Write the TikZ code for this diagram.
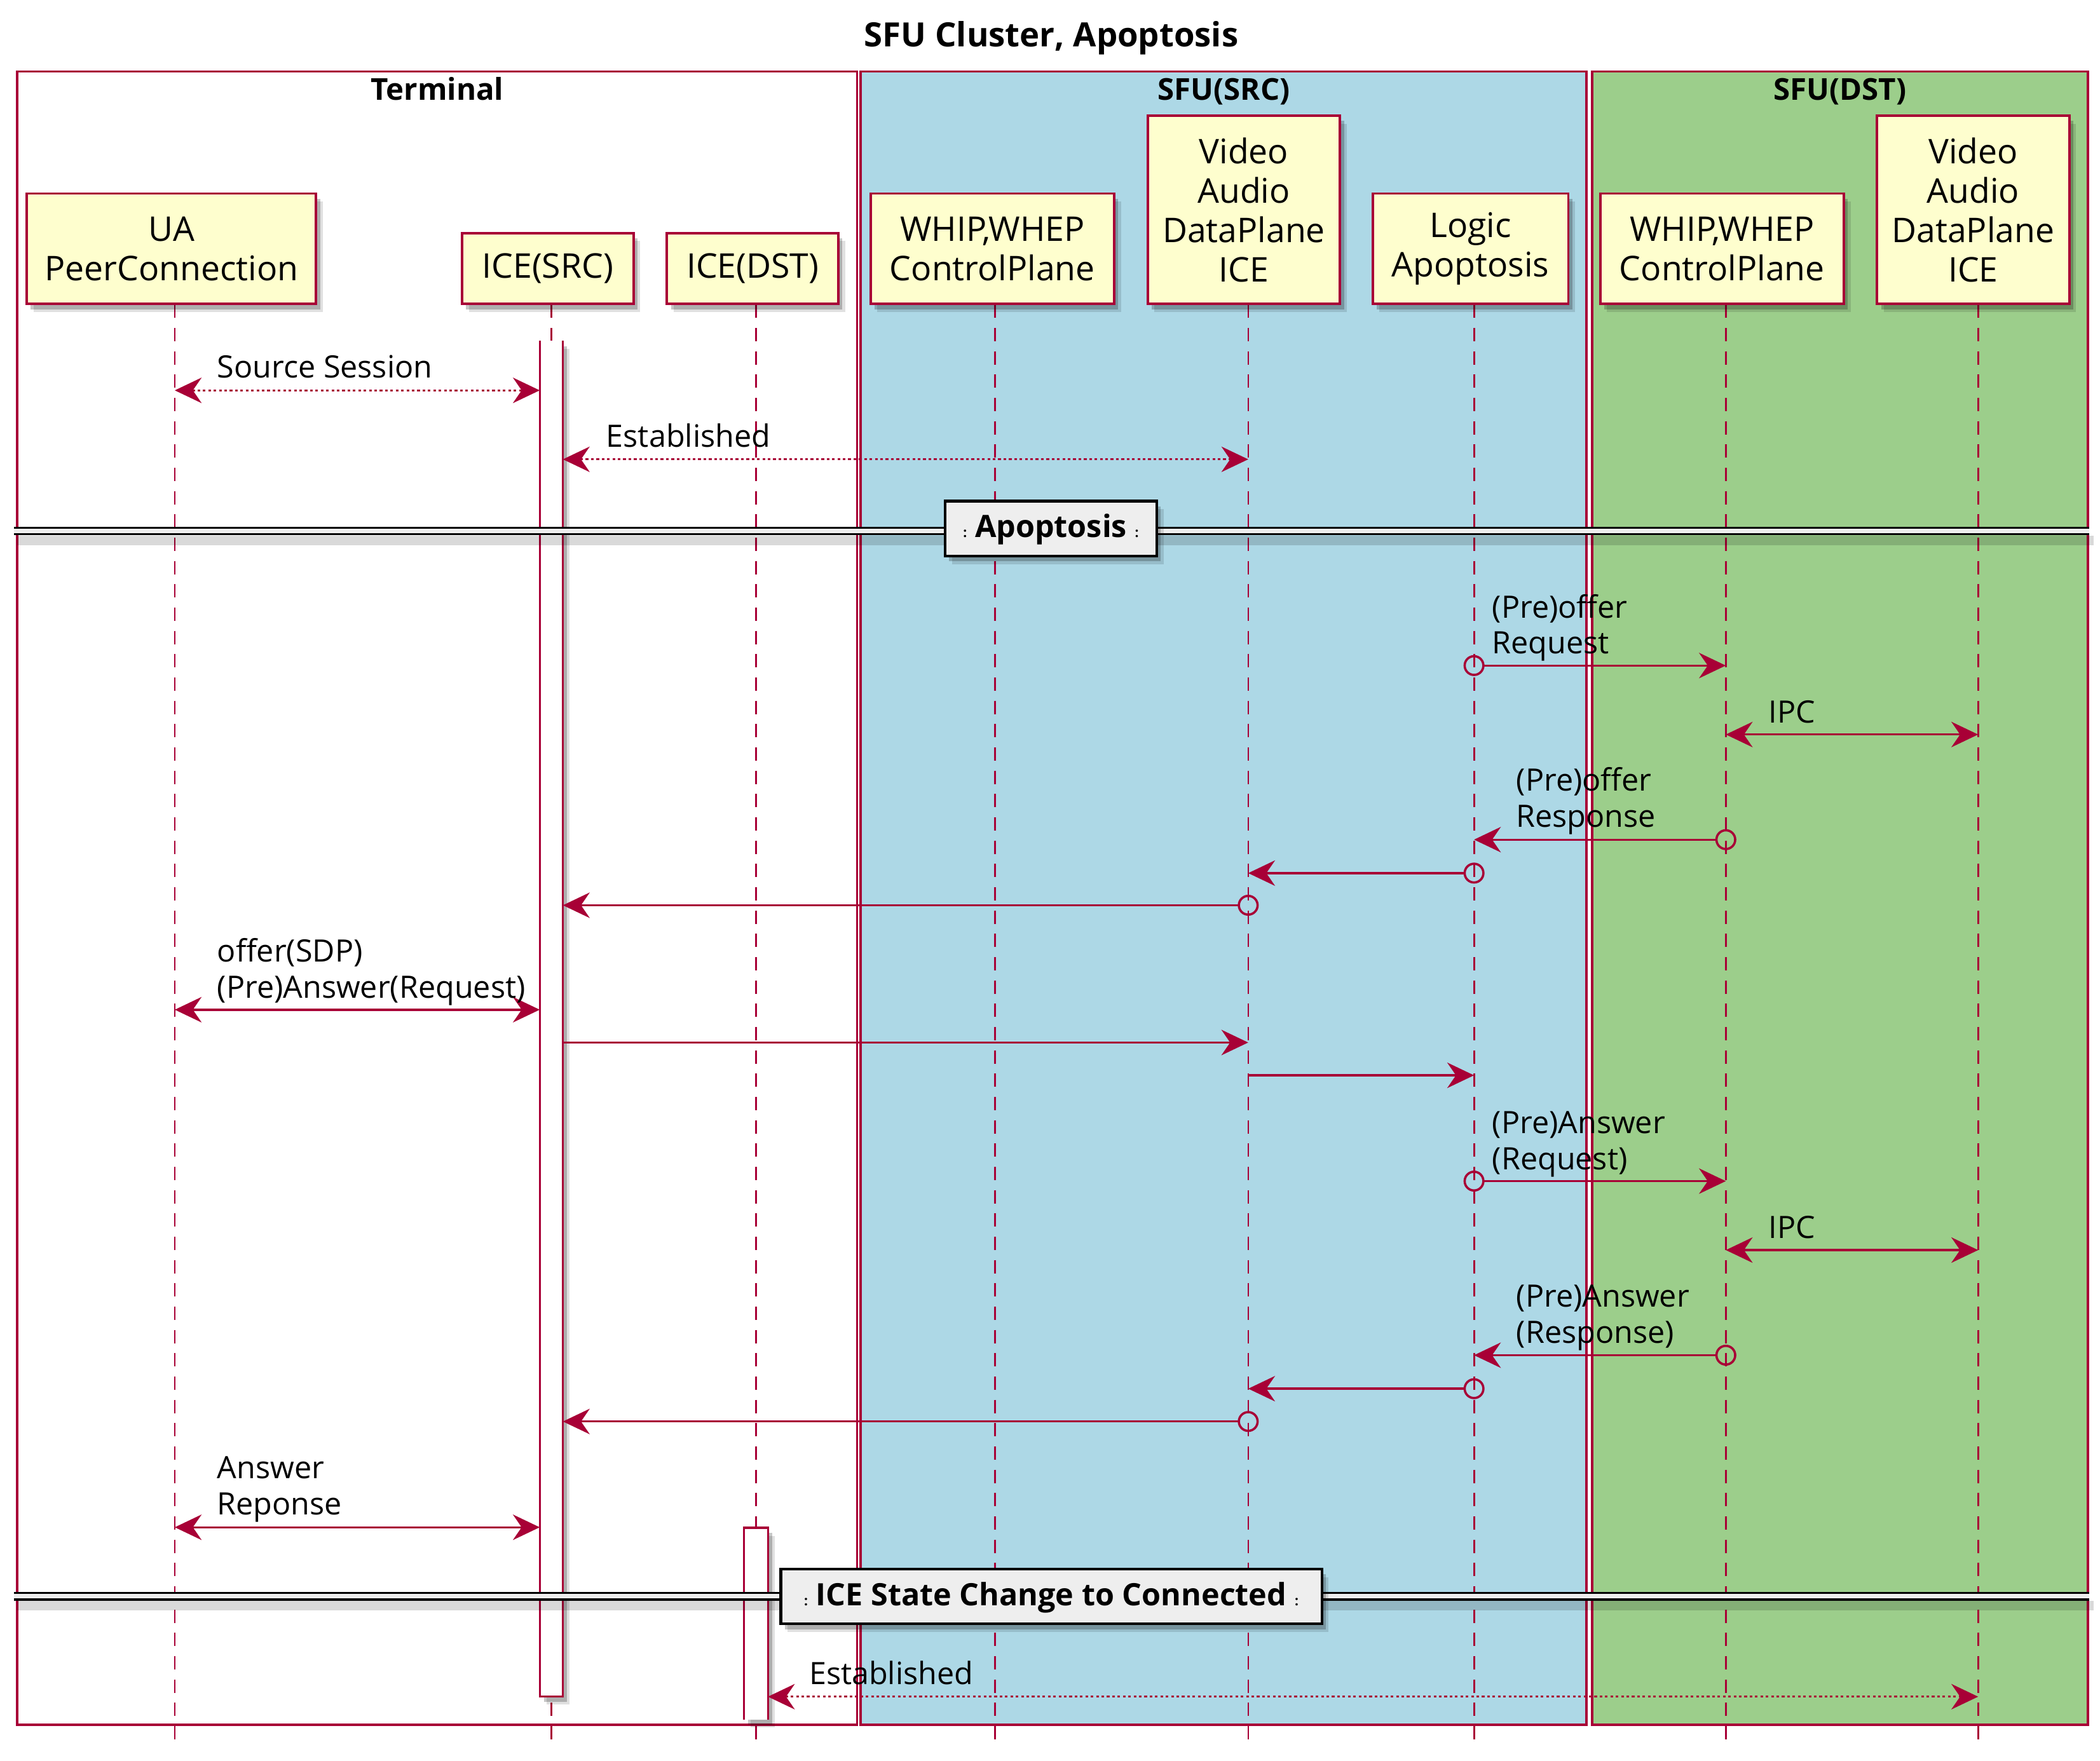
\documentclass[tikz,border=0pt]{standalone}
\usepackage{fontspec}
\setmainfont{Open Sans}
\usetikzlibrary{arrows.meta,shadows}
\definecolor{crim}{HTML}{A80036}
\definecolor{partfill}{HTML}{FEFECE}
\definecolor{srcblue}{HTML}{ADD8E6}
\definecolor{dstgreen}{HTML}{9CCE8B}
\definecolor{divfill}{HTML}{EEEEEE}
\newcommand{\dcolon}{{\fontsize{10}{10}\selectfont :}}
\tikzset{
  pu/.tip={Stealth[length=20pt,width=19pt,inset=6.5pt]},
  shad/.style={drop shadow={shadow xshift=3pt,shadow yshift=-4pt,opacity=.22,fill=black},
               drop shadow={shadow xshift=5pt,shadow yshift=-6pt,opacity=.12,fill=black}},
  grp/.style={draw=crim,line width=1.8pt},
  gtitle/.style={font=\fontsize{22.5}{27}\selectfont\bfseries,anchor=base,inner sep=0pt},
  ttl/.style={font=\fontsize{25}{30}\selectfont\bfseries,anchor=base,inner sep=0pt},
  part/.style={draw=crim,line width=1.8pt,fill=partfill,align=center,inner sep=0pt,outer sep=0pt,
               font=\fontsize{25.4}{29.5}\selectfont,shad},
  act/.style={fill=white,inner sep=0pt,outer sep=0pt,shad},
  actedge/.style={draw=crim,line width=1.6pt},
  life/.style={draw=crim,line width=1.3pt,dash pattern=on 10pt off 7.4pt},
  msg/.style={draw=crim,line width=1.6pt},
  dotmsg/.style={draw=crim,line width=1.4pt,dash pattern=on 2pt off 2pt},
  lbl/.style={font=\fontsize{23}{27}\selectfont,inner sep=0pt,align=left,text depth=0pt,anchor=south west},
  divline/.style={draw=black,line width=1.6pt},
  divbox/.style={draw=black,line width=2pt,fill=divfill,inner sep=0pt,outer sep=0pt,
                 font=\fontsize{23}{27}\selectfont\bfseries,text height=16.4pt,text depth=3pt,shad},
  circ/.style={draw=crim,line width=1.7pt}
}
\begin{document}
\begin{tikzpicture}[x=1pt,y=-1pt]
\useasboundingbox (0,0) rectangle (1568,1315);
\fill[white] (0,0) rectangle (1568,1315);

% title
\node[ttl] (title) at (785,34.7) {SFU Cluster, Apoptosis};

% groups
\draw[grp,fill=white] (12.7,53.4) rectangle (640,1288);
\draw[grp,fill=srcblue] (642.5,53.4) rectangle (1184.6,1288);
\draw[grp,fill=dstgreen] (1188.7,53.4) rectangle (1559,1288);
\node[gtitle] (gterm) at (326.4,74.6) {Terminal};
\node[gtitle] (gsrc) at (913.8,74.6) {SFU(SRC)};
\node[gtitle] (gdst) at (1373.8,74.6) {SFU(DST)};

% lifelines
\coordinate (uaL) at (130.5,227.5);
\coordinate (isL) at (411.7,227.5);
\coordinate (idL) at (564.5,227.5);
\coordinate (wsL) at (743,227.5);
\coordinate (vsL) at (932,227.5);
\coordinate (lgL) at (1100.6,227.5);
\coordinate (wdL) at (1288.6,227.5);
\coordinate (vdL) at (1477,227.5);
\coordinate (bot) at (0,1300);
\foreach \c in {uaL,isL,idL,wsL,vsL,lgL,wdL,vdL}
  \draw[life] (\c) -- (\c |- bot);

% participants
\node[part,minimum width=216pt,minimum height=82.5pt] (ua) at (128,185.75) {UA\\PeerConnection};
\node[part,minimum width=128pt,minimum height=53pt] (ices) at (409,200.5) {ICE(SRC)};
\node[part,minimum width=128pt,minimum height=53pt] (iced) at (562,200.5) {ICE(DST)};
\node[part,minimum width=182pt,minimum height=82.5pt] (whips) at (741,185.75) {WHIP,WHEP\\ControlPlane};
\node[part,minimum width=143.5pt,minimum height=140.6pt] (vids) at (928.75,156.7) {Video\\Audio\\DataPlane\\ICE};
\node[part,minimum width=146pt,minimum height=82.5pt] (logic) at (1098,185.75) {Logic\\Apoptosis};
\node[part,minimum width=182pt,minimum height=82.5pt] (whipd) at (1285.8,185.75) {WHIP,WHEP\\ControlPlane};
\node[part,minimum width=143.5pt,minimum height=140.6pt] (vidd) at (1473.3,156.7) {Video\\Audio\\DataPlane\\ICE};

% activation bars
\node[act,minimum width=17.3pt,minimum height=1012.5pt] (asrc) at (411.65,760.75) {};
\draw[actedge] (asrc.north west) -- (asrc.south west) -- (asrc.south east) -- (asrc.north east);
\node[act,minimum width=17.8pt,minimum height=143.2pt] (adst) at (564.5,1212.4) {};
\draw[actedge] (adst.south west) -- (adst.north west) -- (adst.north east) -- (adst.south east);

% dividers
\fill[black,opacity=.15] (13,400) rectangle (1563,407);
\fill[divfill] (10.5,394) rectangle (1560,399);
\draw[divline] (10.5,394) -- (1560,394) (10.5,399) -- (1560,399);
\node[divbox,minimum width=158pt,minimum height=41pt] (d1) at (784.7,394.7)
  {\dcolon\hspace{6pt}Apoptosis\hspace{6pt}\dcolon};

\fill[black,opacity=.15] (13,1195.5) rectangle (1563,1202.5);
\fill[divfill] (10.5,1189.5) rectangle (1560,1194.5);
\draw[divline] (10.5,1189.5) -- (1560,1189.5) (10.5,1194.5) -- (1560,1194.5);
\node[divbox,minimum width=404pt,minimum height=41pt] (d2) at (785,1192.2)
  {\dcolon\hspace{6pt}ICE State Change to Connected\hspace{6pt}\dcolon};

% rows
\coordinate (r1) at (0,291.5);
\coordinate (r2) at (0,343);
\coordinate (r4) at (0,497);
\coordinate (r5) at (0,548.5);
\coordinate (r6) at (0,627);
\coordinate (r7) at (0,652);
\coordinate (r8) at (0,676);
\coordinate (r9) at (0,754);
\coordinate (r10) at (0,778.5);
\coordinate (r11) at (0,803);
\coordinate (r12) at (0,882);
\coordinate (r13) at (0,933.5);
\coordinate (r14) at (0,1012);
\coordinate (r15) at (0,1037);
\coordinate (r16) at (0,1061.5);
\coordinate (r17) at (0,1140.5);
\coordinate (r20) at (0,1267);

% messages
\draw[dotmsg,pu-pu] (uaL |- r1) -- (asrc.west |- r1);
\node[lbl] (l1) at (162,282.5) {Source Session};

\draw[dotmsg,pu-pu] (asrc.east |- r2) -- (vsL |- r2);
\node[lbl] (l2) at (452.5,334) {Established};

\draw[msg,-pu,shorten <=7pt] (lgL |- r4) -- (wdL |- r4);
\draw[circ] (lgL |- r4) circle (7pt);
\node[lbl] (l4) at (1114,488.5) {(Pre)offer\\Request};

\draw[msg,pu-pu] (wdL |- r5) -- (vdL |- r5);
\node[lbl] (l5) at (1320.3,540) {IPC};

\draw[msg,-pu,shorten <=7pt] (wdL |- r6) -- (lgL |- r6);
\draw[circ] (wdL |- r6) circle (7pt);
\node[lbl] (l6) at (1132,618) {(Pre)offer\\Response};

\draw[msg,-pu,shorten <=7pt] (lgL |- r7) -- (vsL |- r7);
\draw[circ] (lgL |- r7) circle (7pt);

\draw[msg,-pu,shorten <=7pt] (vsL |- r8) -- (asrc.east |- r8);
\draw[circ] (vsL |- r8) circle (7pt);

\draw[msg,pu-pu] (uaL |- r9) -- (asrc.west |- r9);
\node[lbl] (l9) at (162,745.4) {offer(SDP)\\(Pre)Answer(Request)};

\draw[msg,-pu] (asrc.east |- r10) -- (vsL |- r10);
\draw[msg,-pu] (vsL |- r11) -- (lgL |- r11);

\draw[msg,-pu,shorten <=7pt] (lgL |- r12) -- (wdL |- r12);
\draw[circ] (lgL |- r12) circle (7pt);
\node[lbl] (l12) at (1114,873.5) {(Pre)Answer\\(Request)};

\draw[msg,pu-pu] (wdL |- r13) -- (vdL |- r13);
\node[lbl] (l13) at (1320.3,925) {IPC};

\draw[msg,-pu,shorten <=7pt] (wdL |- r14) -- (lgL |- r14);
\draw[circ] (wdL |- r14) circle (7pt);
\node[lbl] (l14) at (1132,1003) {(Pre)Answer\\(Response)};

\draw[msg,-pu,shorten <=7pt] (lgL |- r15) -- (vsL |- r15);
\draw[circ] (lgL |- r15) circle (7pt);

\draw[msg,-pu,shorten <=7pt] (vsL |- r16) -- (asrc.east |- r16);
\draw[circ] (vsL |- r16) circle (7pt);

\draw[msg,pu-pu] (uaL |- r17) -- (asrc.west |- r17);
\node[lbl] (l17) at (162,1131.5) {Answer\\Reponse};

\draw[dotmsg,pu-pu] (adst.east |- r20) -- (vdL |- r20);
\node[lbl] (l20) at (604,1258) {Established};
\end{tikzpicture}
\end{document}
